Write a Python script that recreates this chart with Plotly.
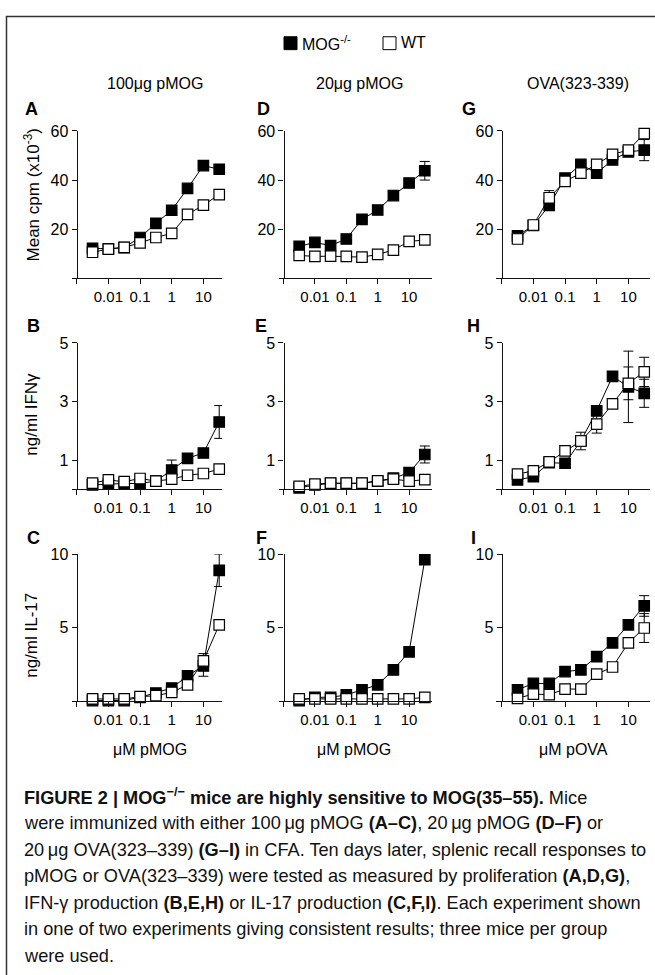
import plotly.graph_objects as go

# ---------------- data ----------------
conc = [0.00316, 0.01, 0.0316, 0.1, 0.316, 1, 3.16, 10, 31.6]

# proliferation (Mean cpm x10^-3)
A_ko = [12.2, 12.0, 12.5, 16.6, 22.4, 27.7, 36.6, 45.9, 44.4]
A_wt = [10.6, 11.9, 12.6, 14.4, 16.6, 18.3, 26.0, 29.8, 34.1]
D_ko = [13.0, 14.6, 13.3, 16.0, 24.0, 27.8, 33.7, 38.8, 43.8]
D_wt = [9.3, 8.9, 9.0, 8.9, 8.6, 9.7, 11.5, 15.0, 15.6]
G_ko = [17.3, 21.5, 29.7, 40.8, 46.4, 42.8, 48.2, 51.5, 52.2]
G_wt = [16.0, 21.7, 32.8, 39.5, 42.8, 46.4, 50.5, 52.2, 58.9]
# IFN-gamma (ng/ml)
B_ko = [0.15, 0.18, 0.20, 0.20, 0.28, 0.66, 1.06, 1.24, 2.30]
B_wt = [0.21, 0.32, 0.26, 0.37, 0.28, 0.35, 0.48, 0.54, 0.69]
E_ko = [0.05, 0.15, 0.20, 0.20, 0.20, 0.28, 0.38, 0.57, 1.19]
E_wt = [0.10, 0.18, 0.21, 0.21, 0.21, 0.29, 0.35, 0.28, 0.33]
H_ko = [0.32, 0.43, 0.91, 0.89, 1.65, 2.68, 3.86, 3.50, 3.28]
H_wt = [0.52, 0.63, 0.94, 1.31, 1.65, 2.23, 2.92, 3.62, 4.01]
# IL-17 (ng/ml)
C_ko = [0.05, 0.05, 0.05, 0.27, 0.56, 0.90, 1.73, 2.40, 8.90]
C_wt = [0.16, 0.16, 0.16, 0.31, 0.38, 0.60, 1.12, 2.74, 5.20]
F_ko = [0.05, 0.27, 0.27, 0.43, 0.78, 1.12, 2.13, 3.36, 9.62]
F_wt = [0.16, 0.16, 0.16, 0.16, 0.16, 0.16, 0.16, 0.16, 0.27]
I_ko = [0.78, 1.21, 1.21, 2.02, 2.13, 3.03, 3.97, 5.20, 6.48]
I_wt = [0.20, 0.49, 0.45, 0.83, 0.83, 1.84, 2.33, 3.97, 4.98]

# error bars (None = not shown)
N = None
A_ko_err = [N] * 9
A_wt_err = [N] * 9
D_ko_err = [N, N, N, N, N, N, N, N, 3.8]
D_wt_err = [N] * 9
G_ko_err = [N, N, N, N, N, N, N, N, 4.3]
G_wt_err = [N, N, 2.9, N, N, N, N, N, N]
B_ko_err = [N, N, N, N, N, 0.34, N, N, 0.56]
B_wt_err = [N] * 9
E_ko_err = [N, N, N, N, N, N, N, N, 0.29]
E_wt_err = [N] * 9
H_ko_err = [N, N, N, N, N, N, N, 1.22, 0.48]
H_wt_err = [N, N, N, N, 0.30, 0.31, N, 0.56, 0.50]
C_ko_err = [N, N, N, N, N, N, N, 0.70, 1.10]
C_wt_err = [N, N, N, N, N, N, N, 0.50, N]
F_ko_err = [N] * 9
F_wt_err = [N] * 9
I_ko_err = [N, N, N, N, N, N, N, N, 0.70]
I_wt_err = [N, N, N, N, N, N, N, N, 0.98]

x_tickvals = [0.01, 0.1, 1, 10]
x_ticktext = ["0.01", "0.1", "1", "10"]
x_minor_tick = [0.001]
row_ticks = [[20, 40, 60], [1, 3, 5], [5, 10]]
row_max = [60, 5, 10]
row_titles = ["Mean cpm (x10<sup>-3</sup>)", "ng/ml IFNγ", "ng/ml IL-17"]
col_titles = ["100μg pMOG", "20μg pMOG", "OVA(323-339)"]
x_titles = ["μM pMOG", "μM pMOG", "μM pOVA"]
panel_letters = [["A", "D", "G"], ["B", "E", "H"], ["C", "F", "I"]]
series = [
    [(A_ko, A_ko_err, A_wt, A_wt_err), (D_ko, D_ko_err, D_wt, D_wt_err), (G_ko, G_ko_err, G_wt, G_wt_err)],
    [(B_ko, B_ko_err, B_wt, B_wt_err), (E_ko, E_ko_err, E_wt, E_wt_err), (H_ko, H_ko_err, H_wt, H_wt_err)],
    [(C_ko, C_ko_err, C_wt, C_wt_err), (F_ko, F_ko_err, F_wt, F_wt_err), (I_ko, I_ko_err, I_wt, I_wt_err)],
]

caption_lines = [
    "<b>FIGURE 2 | MOG<sup>−/−</sup> mice are highly sensitive to MOG(35–55).</b> Mice",
    "were immunized with either 100\u2009μg pMOG <b>(A–C)</b>, 20\u2009μg pMOG <b>(D–F)</b> or",
    "20\u2009μg OVA(323–339) <b>(G–I)</b> in CFA. Ten days later, splenic recall responses to",
    "pMOG or OVA(323–339) were tested as measured by proliferation <b>(A,D,G)</b>,",
    "IFN-γ production <b>(B,E,H)</b> or IL-17 production <b>(C,F,I)</b>. Each experiment shown",
    "in one of two experiments giving consistent results; three mice per group",
    "were used.",
]

# ---------------- layout geometry (pixels) ----------------
W, H = 655, 975
FONT = "Liberation Sans, Arial, sans-serif"


def px(x):
    return x / W


def py(y):
    return 1 - y / H


cols = [
    dict(yax=76.7, dec=31.67, left=72, right=222, center=150),
    dict(yax=283.5, dec=31.4, left=279, right=432, center=354),
    dict(yax=501.7, dec=31.67, left=496, right=650, center=573),
]
rows = [
    dict(zero=272.5, top=124.0, letter_y=102, title_y=189),
    dict(zero=485.3, top=337.7, letter_y=321, title_y=410),
    dict(zero=699.0, top=550.7, letter_y=534, title_y=633),
]
letter_x = [[31, 263, 469], [33, 261, 473], [33, 261, 473]]

fig = go.Figure()
layout = dict(
    width=W, height=H, margin=dict(l=0, r=0, t=0, b=0),
    paper_bgcolor="white", plot_bgcolor="rgba(0,0,0,0)",
    showlegend=False, font=dict(family=FONT, color="black"),
)
annotations = []
shapes = []

axis_color = "#111"
for r in range(3):
    for c in range(3):
        k = r * 3 + c + 1
        cg, rg = cols[c], rows[r]
        lo = -3 + (cg["left"] - cg["yax"]) / cg["dec"]
        hi = -3 + (cg["right"] - cg["yax"]) / cg["dec"]
        xname = "xaxis" if k == 1 else f"xaxis{k}"
        yname = "yaxis" if k == 1 else f"yaxis{k}"
        layout[xname] = dict(
            domain=[px(cg["left"]), px(cg["right"])], type="log", range=[lo, hi],
            anchor=f"y{k}" if k > 1 else "y", showline=True, linecolor=axis_color, linewidth=1.2,
            ticks="outside", ticklen=5, tickwidth=1.2, tickcolor=axis_color,
            tickvals=x_tickvals, ticktext=x_ticktext, tickfont=dict(size=15, family=FONT),
            minor=dict(tickvals=x_minor_tick, ticks="outside", ticklen=5, tickwidth=1.2,
                       tickcolor=axis_color, showgrid=False),
            showgrid=False, zeroline=False, fixedrange=True,
        )
        layout[yname] = dict(
            domain=[py(rg["zero"]), py(rg["top"])], range=[0, row_max[r]],
            anchor="free", position=px(cg["yax"]), showline=True, linecolor=axis_color, linewidth=1.2,
            ticks="outside", ticklen=5, tickwidth=1.2, tickcolor=axis_color,
            tickvals=row_ticks[r], tickfont=dict(size=16, family=FONT),
            showgrid=False, zeroline=False, fixedrange=True,
        )
        ko, ko_err, wt, wt_err = series[r][c]
        xa = "x" if k == 1 else f"x{k}"
        ya = "y" if k == 1 else f"y{k}"
        for vals, errs, fill in ((ko, ko_err, "black"), (wt, wt_err, "white")):
            fig.add_trace(go.Scatter(
                x=conc, y=vals, xaxis=xa, yaxis=ya, mode="lines+markers",
                line=dict(color="black", width=1),
                marker=dict(symbol="square", size=10.5, color=fill,
                            line=dict(color="black", width=1.2)),
                error_y=dict(type="data", array=errs, visible=True, color="black",
                             thickness=1, width=5),
                cliponaxis=False, hoverinfo="x+y",
            ))
        annotations.append(dict(
            text=f"<b>{panel_letters[r][c]}</b>", x=px(letter_x[r][c]), y=py(rg["letter_y"]),
            xref="paper", yref="paper", showarrow=False, xanchor="center", yanchor="middle",
            font=dict(size=18, family=FONT)))

# row (y) titles
for r in range(3):
    annotations.append(dict(
        text=row_titles[r], x=px(32), y=py(rows[r]["title_y"]), xref="paper", yref="paper",
        showarrow=False, textangle=-90, xanchor="center", yanchor="middle",
        font=dict(size=17, family=FONT)))

# column titles and x titles
for c in range(3):
    annotations.append(dict(
        text=col_titles[c], x=px(cols[c]["center"] + 5), y=py(76), xref="paper", yref="paper",
        showarrow=False, xanchor="center", yanchor="middle", font=dict(size=16, family=FONT)))
    annotations.append(dict(
        text=x_titles[c], x=px(cols[c]["center"]), y=py(748), xref="paper", yref="paper",
        showarrow=False, xanchor="center", yanchor="middle", font=dict(size=16, family=FONT)))

# legend
shapes.append(dict(type="rect", xref="paper", yref="paper", x0=px(284), x1=px(297),
                   y0=py(42), y1=py(29), fillcolor="black", line=dict(color="black", width=1)))
annotations.append(dict(text="MOG<sup>-/-</sup>", x=px(300), y=py(35), xref="paper", yref="paper",
                        showarrow=False, xanchor="left", yanchor="middle", font=dict(size=16, family=FONT)))
shapes.append(dict(type="rect", xref="paper", yref="paper", x0=px(383), x1=px(396),
                   y0=py(42), y1=py(29), fillcolor="white", line=dict(color="black", width=1)))
annotations.append(dict(text="WT", x=px(399), y=py(35), xref="paper", yref="paper",
                        showarrow=False, xanchor="left", yanchor="middle", font=dict(size=16, family=FONT)))

# caption
for i, line in enumerate(caption_lines):
    annotations.append(dict(
        text=line, x=px(22), y=py(795 + 26.8 * i), xref="paper", yref="paper",
        showarrow=False, xanchor="left", yanchor="middle", align="left",
        font=dict(size=18.2, family=FONT, color="#111")))

# outer frame (open to the right/bottom edges of the page)
shapes.append(dict(type="rect", xref="paper", yref="paper", x0=px(6.5), x1=px(720),
                   y0=py(1100), y1=py(8.5), line=dict(color="#333", width=1.5),
                   fillcolor="rgba(0,0,0,0)", layer="below"))

layout["annotations"] = annotations
layout["shapes"] = shapes
fig.update_layout(**layout)

fig.write_html("out.html", config={"displayModeBar": False},
               post_script="document.body.style.margin='0px';document.body.style.overflow='hidden';")
